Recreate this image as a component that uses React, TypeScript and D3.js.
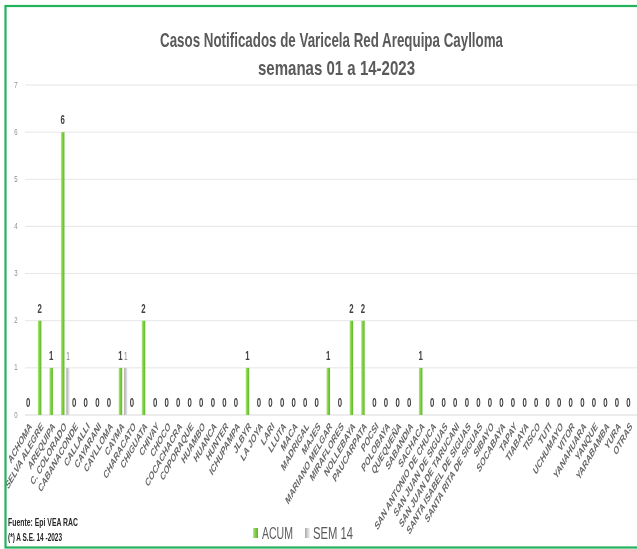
import React from "react";
import * as d3 from "d3";

const categories = [
  "ACHOMA", "SELVA ALEGRE", "AREQUIPA", "C. COLORADO", "CABANACONDE", "CALLALLI",
  "CAYARANI", "CAYLLOMA", "CAYMA", "CHARACATO", "CHIGUATA", "CHIVAY", "CHOCO",
  "COCACHACRA", "COPORAQUE", "HUAMBO", "HUANCA", "HUNTER", "ICHUPAMPA", "JLBYR",
  "LA JOYA", "LARI", "LLUTA", "MACA", "MADRIGAL", "MAJES", "MARIANO MELGAR",
  "MIRAFLORES", "NOLLEBAYA", "PAUCARPATA", "POCSI", "POLOBAYA", "QUEQUEÑA",
  "SABANDIA", "SACHACA", "SAN ANTONIO DE CHUCA", "SAN JUAN DE SIGUAS",
  "SAN JUAN DE TARUCANI", "SANTA ISABEL DE SIGUAS", "SANTA RITA DE SIGUAS",
  "SIBAYO", "SOCABAYA", "TAPAY", "TIABAYA", "TISCO", "TUTI", "UCHUMAYO", "VITOR",
  "YANAHUARA", "YANQUE", "YARABAMBA", "YURA", "OTRAS",
];

const acum = [
  0, 2, 1, 6, 0, 0, 0, 0, 1, 0, 2, 0, 0, 0, 0, 0, 0, 0, 0, 1,
  0, 0, 0, 0, 0, 0, 1, 0, 2, 2, 0, 0, 0, 0, 1, 0, 0, 0, 0, 0,
  0, 0, 0, 0, 0, 0, 0, 0, 0, 0, 0, 0, 0,
];

const sem14 = [
  0, 0, 0, 1, 0, 0, 0, 0, 1, 0, 0, 0, 0, 0, 0, 0, 0, 0, 0, 0,
  0, 0, 0, 0, 0, 0, 0, 0, 0, 0, 0, 0, 0, 0, 0, 0, 0, 0, 0, 0,
  0, 0, 0, 0, 0, 0, 0, 0, 0, 0, 0, 0, 0,
];

const yTicks = [0, 1, 2, 3, 4, 5, 6, 7];
const seriesNames = ["ACUM", "SEM 14"];
const titleLines = ["Casos Notificados de Varicela Red Arequipa Caylloma", "semanas 01 a 14-2023"];
const footnotes = ["Fuente: Epi VEA RAC", "(*) A S.E. 14 -2023"];

const W = 637;
const H = 549;
const K = 1.6; // vertical stretch of text
const TXT = "#595959";
const FONT = "Liberation Sans, Arial, sans-serif";

export default function App() {
  const x = d3.scaleBand<string>().domain(categories).range([25, 637]).paddingInner(0).paddingOuter(0);
  const inner = d3.scaleBand<string>().domain(seriesNames).range([-4.5, 4.5]).paddingInner(0.35).paddingOuter(0);
  const y = d3.scaleLinear().domain([0, 7]).range([415, 85]);
  const cx = (c: string) => (x(c) as number) + x.bandwidth() / 2;
  const bw = inner.bandwidth();

  return (
    <svg width={W} height={H} style={{ position: "absolute", left: 0, top: 0, background: "#fff" }}
      fontFamily={FONT}>
      <defs>
        <linearGradient id="gGreen" x1="0" x2="1" y1="0" y2="0">
          <stop offset="0" stopColor="#b6ea8a" />
          <stop offset="0.45" stopColor="#7fd03e" />
          <stop offset="1" stopColor="#5cb82a" />
        </linearGradient>
        <linearGradient id="gGray" x1="0" x2="1" y1="0" y2="0">
          <stop offset="0" stopColor="#a6a6a6" />
          <stop offset="0.5" stopColor="#d0d0d0" />
          <stop offset="1" stopColor="#f4f4f4" />
        </linearGradient>
      </defs>
      <rect x={0} y={0} width={W} height={H} fill="#fff" />

      <g opacity={0.995}>
        {/* title */}
        {titleLines.map((t, i) => (
          <text key={t} transform={`translate(${i === 0 ? 331.5 : 336.5},${i === 0 ? 47 : 75}) scale(1,${K})`}
            textAnchor="middle" fontSize={12.5} fontWeight="bold" fill={TXT}
            textLength={i === 0 ? 343 : 157} lengthAdjust="spacingAndGlyphs">{t}</text>
        ))}

        {/* gridlines */}
        {yTicks.map((t) => (
          <line key={t} x1={25} x2={637} y1={y(t)} y2={y(t)} stroke={t === 0 ? "#d9d9d9" : "#e6e6e6"} strokeWidth={1} />
        ))}
        {yTicks.map((t) => (
          <text key={"yt" + t} transform={`translate(16,${y(t) + 2.5}) scale(1,${K})`} textAnchor="middle"
            fontSize={6} fill="#8c8c8c">{t}</text>
        ))}

        {/* bars */}
        {categories.map((c, i) => {
          const c0 = cx(c);
          const xa = c0 + (inner("ACUM") as number);
          const xs = c0 + (inner("SEM 14") as number);
          return (
            <g key={c}>
              {acum[i] > 0 && (
                <rect x={xa} y={y(acum[i])} width={bw} height={y(0) - y(acum[i])} fill="url(#gGreen)" />
              )}
              {sem14[i] > 0 && (
                <rect x={xs} y={y(sem14[i])} width={bw} height={y(0) - y(sem14[i])} fill="url(#gGray)" />
              )}
              <text transform={`translate(${xa + bw / 2},${y(acum[i]) - 8}) scale(1,${K})`} textAnchor="middle"
                fontSize={7.8} fontWeight="bold" fill="#404040">{acum[i]}</text>
              {sem14[i] > 0 && (
                <text transform={`translate(${xs + bw / 2},${y(sem14[i]) - 8}) scale(1,${K})`} textAnchor="middle"
                  fontSize={6.5} fill="#7f7f7f">{sem14[i]}</text>
              )}
            </g>
          );
        })}

        {/* x labels */}
        {categories.map((c) => (
          <text key={"xl" + c} transform={`translate(${cx(c) + 1.5},${427}) scale(1,1.7) rotate(-46)`}
            textAnchor="end" fontSize={6.8} fontWeight="bold" fill="#666666">{c}</text>
        ))}

        {/* legend */}
        <rect x={253} y={528} width={5} height={10} fill="url(#gGreen)" />
        <text transform={`translate(262,539) scale(1,${K})`} fontSize={10} fill={TXT}
          textLength={31} lengthAdjust="spacingAndGlyphs">{seriesNames[0]}</text>
        <rect x={305} y={528} width={5} height={10} fill="url(#gGray)" />
        <text transform={`translate(313,539) scale(1,${K})`} fontSize={10} fill={TXT}
          textLength={40} lengthAdjust="spacingAndGlyphs">{seriesNames[1]}</text>

        {/* footnotes */}
        <text transform={`translate(8,526) scale(1,${K})`} fontSize={6.5} fontWeight="bold" fill="#262626"
          textLength={70} lengthAdjust="spacingAndGlyphs">{footnotes[0]}</text>
        <text transform={`translate(8,541) scale(1,${K})`} fontSize={6.5} fontWeight="bold" fill="#262626"
          textLength={54} lengthAdjust="spacingAndGlyphs">{footnotes[1]}</text>
      </g>

      {/* border */}
      <rect x={5.5} y={6} width={640} height={541.5} fill="none" stroke="#22b35c" strokeWidth={2.2} />
    </svg>
  );
}
